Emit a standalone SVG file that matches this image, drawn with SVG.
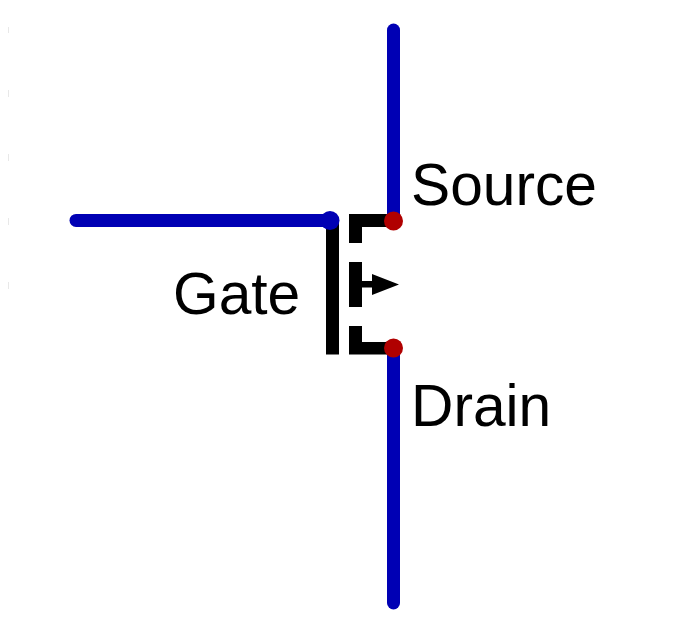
<svg xmlns="http://www.w3.org/2000/svg" width="696" height="638" viewBox="0 0 696 638">
<style>
.wire{stroke:#0000b4;stroke-width:13;stroke-linecap:round;fill:none}
.t{font-family:"Liberation Sans",Arial,sans-serif;font-size:58.700px;fill:#000}
.tick{fill:#e8e8e8}
.red{fill:#b00000}
.blk{fill:#000}
</style>
<rect width="696" height="638" fill="#fff"/>
<g id="ticks">
<rect class="tick" x="8" y="27" width="1" height="6"/>
<rect class="tick" x="8" y="90" width="1" height="7"/>
<rect class="tick" x="8" y="154" width="1" height="7"/>
<rect class="tick" x="8" y="218" width="1" height="7"/>
<rect class="tick" x="8" y="282" width="1" height="7"/>
</g>
<g id="connectors">
<path class="wire" d="M393.500 30V221"/>
<path class="wire" d="M393.500 348V603"/>
<path class="wire" d="M76 220.400H330"/>
</g>
<g id="mosfet">
<rect class="blk" x="326" y="220" width="13" height="134.500"/>
<path class="blk" d="M349 214H393V227H362V243H349Z"/>
<path class="blk" d="M349 262H362V281H372V274L399 284.500L372 295V287.500H362V307H349Z"/>
<path class="blk" d="M349 326H362V342H393V354.500H349Z"/>
</g>
<g id="gate">
<circle cx="330" cy="220.500" r="9.500" fill="#0000b4"/>
<text class="t" x="173" y="314">Gate</text>
</g>
<g id="source">
<circle class="red" cx="393.500" cy="221" r="9.500"/>
<text class="t" x="411" y="205">Source</text>
</g>
<g id="drain">
<circle class="red" cx="393.500" cy="348" r="9.500"/>
<text class="t" x="411" y="426">Drain</text>
</g>
</svg>
